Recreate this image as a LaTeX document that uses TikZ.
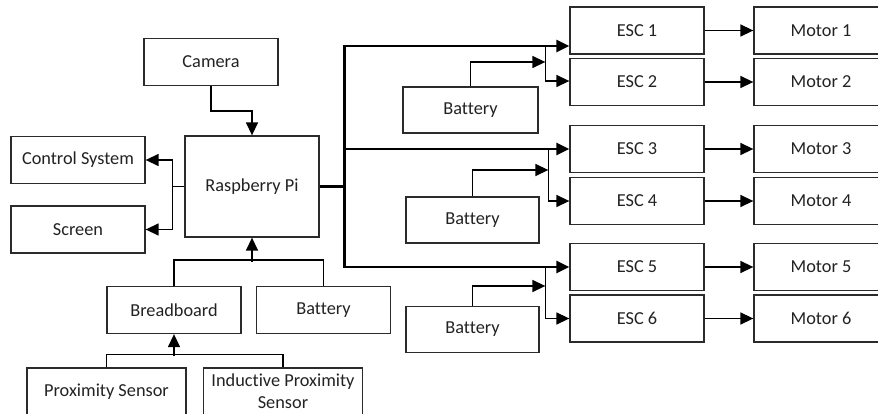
\documentclass[tikz,border=0pt]{standalone}
\usepackage{fontspec,xcolor,tikz}
\setmainfont{Carlito}[Ligatures=NoCommon]
\usetikzlibrary{arrows.meta}
\definecolor{ink}{HTML}{222222}
\definecolor{rahmen}{HTML}{2B2B2B}
\newcommand{\lab}{\fontsize{18.3}{22}\selectfont}
\begin{document}
\begin{tikzpicture}[x=1pt,y=-1pt,
  kasten/.style={draw=rahmen,line width=1.3pt,minimum width=134pt,minimum height=47pt,inner sep=0,font=\lab,text=ink,align=center},
  leitung/.style={black,line width=1.4pt},
  zufuhr/.style={leitung,-{Triangle[length=13pt,width=12pt]}},
  bus/.style={black,line width=2.4pt,-{Triangle[length=13pt,width=12pt]}}]
\clip (0,0) rectangle (878,414);
\node[kasten] (cam) at (211,62) {Camera};
\node[kasten] (ctrl) at (78,160) {Control System};
\node[kasten] (scr) at (78,229.5) {Screen};
\node[kasten,minimum height=101pt] (rpi) at (252,186.5) {Raspberry Pi};
\node[kasten] (brd) at (174,310) {Breadboard};
\node[kasten] (batp) at (323.5,310) {Battery};
\node[kasten,minimum width=159pt] (prox) at (106.5,391.5) {Proximity Sensor};
\node[kasten,minimum width=159pt] (ind) at (283,391.5) {Inductive Proximity\\Sensor};
\foreach \i/\y in {1/30.5,2/82,3/149,4/201,5/267,6/318.5} {
  \node[kasten] (esc\i) at (637,\y) {ESC \i};
  \node[kasten] (mot\i) at (821,\y) {Motor \i};
  \draw[zufuhr] (esc\i.east) -- (mot\i.west);
}
\node[kasten,minimum width=135pt,minimum height=46pt] (bat1) at (470.5,110) {Battery};
\node[kasten,minimum width=133pt,minimum height=46pt] (bat2) at (472.5,220) {Battery};
\node[kasten,minimum width=133pt,minimum height=46pt] (bat3) at (472.5,329.5) {Battery};
\draw[zufuhr] (cam.south) -- ++(0,25) -| (rpi.north);
\draw[leitung] (rpi.west) -- ++(-12,0) coordinate (pl);
\draw[zufuhr] (pl) |- (ctrl.east);
\draw[zufuhr] (pl) |- (scr.east);
\draw[black,line width=2.4pt] (rpi.east) -- ++(25,0) coordinate (pr);
\coordinate (j1) at ([xshift=-24pt,yshift=-15.5pt]esc1.west);
\coordinate (j2) at ([xshift=-21pt]esc3.west);
\coordinate (j3) at ([xshift=-24pt]esc5.west);
\draw[bus] (pr) |- ([yshift=-15.5pt]esc1.west);
\draw[bus] (pr) |- (esc3.west);
\draw[bus] (pr) |- (esc5.west);
\draw[zufuhr] (j1) |- ([yshift=1pt]esc2.west);
\draw[zufuhr] (j2) |- (esc4.west);
\draw[zufuhr] (j3) |- (esc6.west);
\draw[zufuhr] (bat1.north) |- ([yshift=-16pt]j1);
\draw[zufuhr] (bat2.north) |- ([yshift=-21pt]j2);
\draw[zufuhr] (bat3.north) |- ([yshift=-19pt]j3);
\draw[leitung] (brd.north) -- ++(0,-26) -| (batp.north);
\draw[zufuhr] ([yshift=-24pt]rpi.south) -- (rpi.south);
\draw[leitung] (prox.north) -- ++(0,-13) -| (ind.north);
\draw[zufuhr] ([yshift=-22pt]brd.south) -- (brd.south);
\end{tikzpicture}
\end{document}
